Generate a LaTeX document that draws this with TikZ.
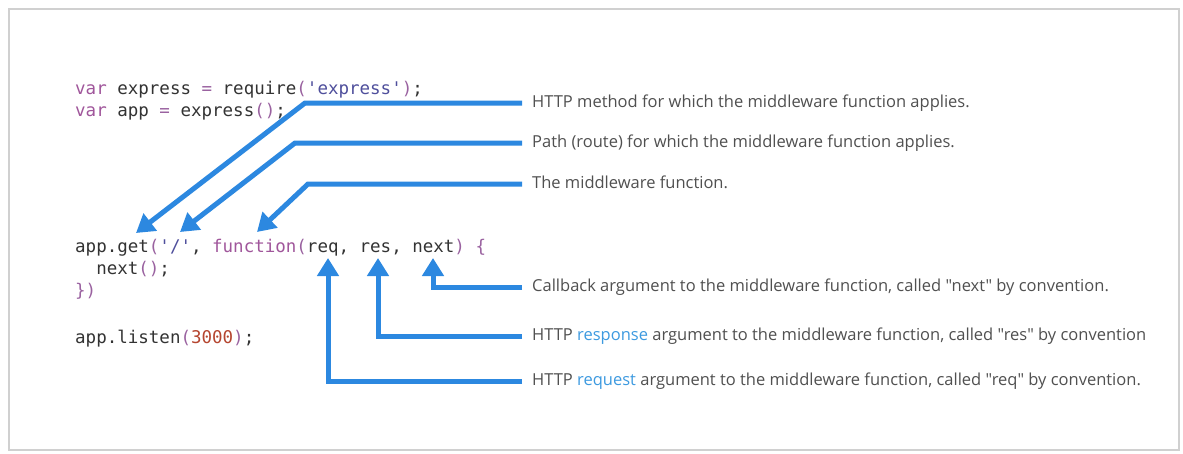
\documentclass[tikz,border=0pt]{standalone}
\usepackage{fontspec}
\setmainfont{Open Sans}[Ligatures=TeXOff]
\setmonofont{DejaVu Sans Mono}
\usetikzlibrary{arrows.meta}
\definecolor{arrowblue}{HTML}{2C88E0}
\definecolor{linkblue}{HTML}{3D9AE0}
\definecolor{desctext}{HTML}{505050}
\definecolor{codeid}{HTML}{333333}
\definecolor{codekw}{HTML}{A0569B}
\definecolor{codepu}{HTML}{9A62A0}
\definecolor{codestr}{HTML}{4F4F9C}
\definecolor{codenum}{HTML}{B5452F}
\definecolor{framegray}{HTML}{D0D0D0}
\newcommand{\kw}[1]{\textcolor{codekw}{#1}}
\newcommand{\pu}[1]{\textcolor{codepu}{#1}}
\newcommand{\st}[1]{\textcolor{codestr}{#1}}
\newcommand{\nm}[1]{\textcolor{codenum}{#1}}
\newcommand{\lnk}[1]{\textcolor{linkblue}{#1}}
\tikzset{
  codeline/.style={anchor=base west, inner sep=0pt, text=codeid,
    font=\ttfamily\fontsize{17.5}{22}\selectfont},
  desc/.style={anchor=west, inner xsep=10pt, inner ysep=0pt, text=desctext,
    text height=11pt, text depth=3pt, font=\fontsize{16.5}{19}\selectfont},
  conn/.style={draw=arrowblue, line width=5pt,
    -{Triangle[width=21pt,length=18pt]}}
}
\begin{document}
\begin{tikzpicture}[x=1pt,y=-1pt]
\useasboundingbox (0,0) rectangle (1183,453);
\fill[white] (0,0) rectangle (1183,453);
\draw[framegray, line width=1.2pt] (9,9) rectangle (1179,450);

% code
\node[codeline] (c1) at (75,94) {\kw{var} express \pu{=} require\pu{(}\st{'express'}\pu{)};};
\node[codeline] (c2) at (75,116) {\kw{var} app \pu{=} express\pu{()};};
\node[codeline] (c3) at (75,252) {app.get\pu{(}\st{'/'}, \kw{function}\pu{(}req, res, next\pu{)} \pu{\{}};
\node[codeline] (c4) at (75,274) {\ \ next\pu{()};};
\node[codeline] (c5) at (75,296) {\pu{\})}};
\node[codeline] (c6) at (75,343) {app.listen\pu{(}\nm{3000}\pu{)};};

% descriptions
\node[desc] (m1) at (522,103) {HTTP method for which the middleware function applies.};
\node[desc] (m2) at (522,143) {Path (route) for which the middleware function applies.};
\node[desc] (m3) at (522,184) {The middleware function.};
\node[desc] (m4) at (522,287) {Callback argument to the middleware function, called "next" by convention.};
\node[desc] (m5) at (522,336) {HTTP \lnk{response} argument to the middleware function, called "res" by convention};
\node[desc] (m6) at (522,381) {HTTP \lnk{request} argument to the middleware function, called "req" by convention.};

% arrow targets
\coordinate (t1) at (136,233);
\coordinate (t2) at (180,232);
\coordinate (t3) at (257,232);
\coordinate (t4) at (433,258);
\coordinate (t5) at (378,258);
\coordinate (t6) at (328,258);

\draw[conn] (m1.west) -- (305,103) -- (t1);
\draw[conn] (m2.west) -- (295,143) -- (t2);
\draw[conn] (m3.west) -- (308,184) -- (t3);
\draw[conn] (m4.west) -- (t4 |- m4.west) -- (t4);
\draw[conn] (m5.west) -- (t5 |- m5.west) -- (t5);
\draw[conn] (m6.west) -- (t6 |- m6.west) -- (t6);
\end{tikzpicture}
\end{document}
